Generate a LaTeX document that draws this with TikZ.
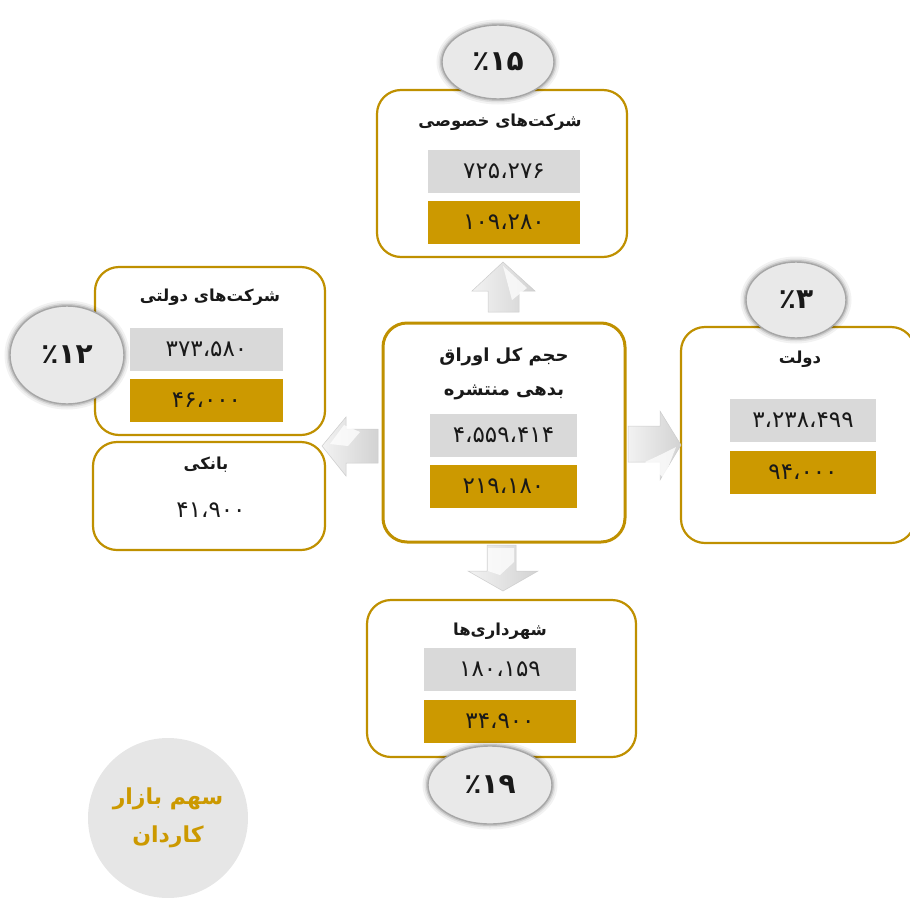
\documentclass[tikz,border=0pt]{standalone}
\usepackage{fontspec}
\usetikzlibrary{shapes.geometric}
\TeXXeTstate=1
\newfontfamily\fa[Script=Arabic]{DejaVu Sans}
\definecolor{goldline}{RGB}{191,144,0}
\definecolor{goldfill}{RGB}{204,153,0}
\definecolor{grayfill}{RGB}{217,217,217}
\definecolor{ellfill}{RGB}{233,233,233}
\definecolor{circfill}{RGB}{230,230,230}
\definecolor{txt}{RGB}{25,25,25}
\begin{document}
\begin{tikzpicture}[x=1pt,y=-1pt,
  box/.style={draw=goldline, line width=2.2pt, rounded corners=24pt, fill=white, inner sep=0pt},
  numrect/.style={minimum width=#1, minimum height=43pt, inner sep=0pt, text=txt,
    font=\fa\fontsize{23}{26}\selectfont},
  grayrect/.style={numrect=#1, fill=grayfill},
  goldrect/.style={numrect=#1, fill=goldfill},
  title/.style={text=txt, inner sep=0pt, font=\fa\bfseries\fontsize{16.5}{22}\selectfont},
  pct/.style={ellipse, fill=ellfill, draw=gray!70, line width=1.4pt, inner sep=0pt, text=txt,
    font=\fa\bfseries\fontsize{28}{32}\selectfont,
    preaction={draw=black, opacity=.05, line width=11pt},
    preaction={draw=black, opacity=.07, line width=7pt},
    preaction={draw=black, opacity=.12, line width=4pt}},
  blockarrow/.style={draw=gray!40, line width=.5pt, left color=gray!10, right color=gray!35},
  facet/.style={fill=white, opacity=.75},
]
\useasboundingbox (0,0) rectangle (910,897);

% boxes
\node[box, minimum width=250pt, minimum height=167pt] (top) at (502,173.5) {};
\node[box, minimum width=230pt, minimum height=168pt] (left) at (210,351) {};
\node[box, minimum width=232pt, minimum height=108pt] (bank) at (209,496) {};
\node[box, line width=3pt, minimum width=242pt, minimum height=219pt] (center) at (504,432.5) {};
\node[box, minimum width=234pt, minimum height=216pt] (right) at (798,435) {};
\node[box, minimum width=269pt, minimum height=157pt] (bottom) at (501.5,678.5) {};

% top box content
\node[title] (toptitle) at (500,122) {\beginR شرکت^^^^200cهای خصوصی\endR};
\node[grayrect=152pt] (topg) at (504,171.5) {۷۲۵،۲۷۶};
\node[goldrect=152pt] (topy) at (504,222.5) {۱۰۹،۲۸۰};

% left box content
\node[title] (lefttitle) at (210,297) {\beginR شرکت^^^^200cهای دولتی\endR};
\node[grayrect=153pt] (leftg) at (206.5,349) {۳۷۳،۵۸۰};
\node[goldrect=153pt] (lefty) at (206.5,400.5) {۴۶،۰۰۰};

% bank box content
\node[title] (banktitle) at (206,465) {\beginR بانکی\endR};
\node[numrect=120pt] (banknum) at (211,510) {۴۱،۹۰۰};

% center box content
\node[title, align=center, font=\fa\bfseries\fontsize{18}{34}\selectfont] (centertitle) at (504,374) {\beginR حجم  کل اوراق\endR\\\beginR بدهی منتشره\endR};
\node[grayrect=147pt] (centerg) at (503.5,435.5) {۴،۵۵۹،۴۱۴};
\node[goldrect=147pt] (centery) at (503.5,486.5) {۲۱۹،۱۸۰};

% right box content
\node[title] (righttitle) at (800,359) {\beginR دولت\endR};
\node[grayrect=146pt] (rightg) at (803,420.5) {۳،۲۳۸،۴۹۹};
\node[goldrect=146pt] (righty) at (803,472) {۹۴،۰۰۰};

% bottom box content
\node[title] (bottomtitle) at (500,631) {\beginR شهرداری^^^^200cها\endR};
\node[grayrect=152pt] (bottomg) at (500,669.5) {۱۸۰،۱۵۹};
\node[goldrect=152pt] (bottomy) at (500,721.5) {۳۴،۹۰۰};

% block arrows
\draw[blockarrow] (503,262) -- (535,291) -- (519,291) -- (519,312) -- (488,312) -- (488,291) -- (472,291) -- cycle;
\fill[facet] (503,266) -- (527,288) -- (512,300) -- cycle;
\draw[blockarrow] (322,446) -- (346,417) -- (346,429) -- (378,429) -- (378,463) -- (346,463) -- (346,476) -- cycle;
\fill[facet] (330,444) -- (344,425) -- (360,432) -- (348,446) -- cycle;
\draw[blockarrow] (681,445) -- (660,411) -- (660,426) -- (628,426) -- (628,462) -- (660,462) -- (660,480) -- cycle;
\fill[facet] (660,455) -- (676,447) -- (664,478) -- (645,462) -- cycle;
\draw[blockarrow] (503,591) -- (538,571) -- (516,571) -- (516,545) -- (487,545) -- (487,571) -- (468,571) -- cycle;
\fill[facet] (488,548) -- (514,548) -- (514,562) -- (500,575) -- (488,571) -- cycle;

% percentage ellipses
\node[pct, minimum width=112pt, minimum height=74pt] (p15) at (498,62) {٪۱۵};
\node[pct, minimum width=114pt, minimum height=98pt] (p12) at (67,355) {٪۱۲};
\node[pct, minimum width=100pt, minimum height=76pt] (p3) at (796,300) {٪۳};
\node[pct, minimum width=124pt, minimum height=78pt] (p19) at (490,785) {٪۱۹};

% market share circle
\node[circle, fill=circfill, minimum size=160pt, inner sep=0pt, text=goldfill, align=center,
  font=\fa\bfseries\fontsize{22}{38}\selectfont] (share) at (168,818)
  {\beginR سهم بازار\endR\\\beginR کاردان\endR};
\end{tikzpicture}
\end{document}
